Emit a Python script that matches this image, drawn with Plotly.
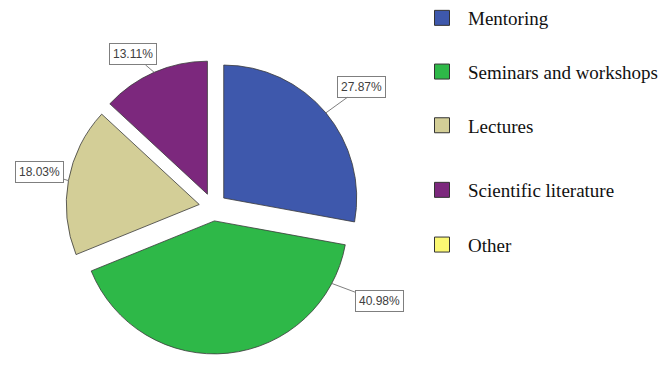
import math
import plotly.graph_objects as go

# ---- data ----
categories = ["Mentoring", "Seminars and workshops", "Lectures", "Scientific literature", "Other"]
percentages = [27.87, 40.98, 18.03, 13.11, 0.0]
colors = ["#3E58AC", "#2EB848", "#D3CE97", "#7C287D", "#FBF873"]

# ---- layout constants (page px; page body has an 8px margin) ----
OFF = 8
W, H = 666 - OFF, 367 - OFF
CX, CY, R = 213 - OFF, 207 - OFF, 133   # pie centre / radius in figure px
PULL = 0.105
anchor_frac = [0.5, 0.12, 0.5, 0.5, 0.5]
label_offset = [(36, -26), (48, 18), (-29, -9), (-21, -18), (0, 0)]

half = R * (1 + PULL)
domain_x = [(CX - half) / W, (CX + half) / W]
domain_y = [1 - (CY + half) / H, 1 - (CY - half) / H]

# no outline for empty slices
line_widths = [0.8 if v > 0 else 0 for v in percentages]

fig = go.Figure()
fig.add_trace(go.Pie(
    labels=categories, values=percentages, sort=False,
    direction="clockwise", rotation=0, pull=PULL,
    marker=dict(colors=colors, line=dict(color="#3a3a3a", width=line_widths)),
    textinfo="none", hoverinfo="label+percent", showlegend=False,
    domain=dict(x=domain_x, y=domain_y),
))

# ---- boxed percentage labels with leader lines ----
total = sum(percentages)
cum = 0.0
annotations = []
for i, v in enumerate(percentages):
    a0 = 360 * cum / total
    a1 = 360 * (cum + v) / total
    cum += v
    if v <= 0:
        continue
    mid = math.radians((a0 + a1) / 2)
    anc = math.radians(a0 + anchor_frac[i] * (a1 - a0))
    tx = CX + PULL * R * math.sin(mid) + R * math.sin(anc)
    ty = CY - PULL * R * math.cos(mid) - R * math.cos(anc)
    ax, ay = label_offset[i]
    annotations.append(dict(
        x=tx / W, y=1 - ty / H, xref="paper", yref="paper",
        ax=ax, ay=ay, text=f"{v:.2f}%",
        showarrow=True, arrowhead=0, arrowwidth=1, arrowcolor="#7f7f7f",
        bordercolor="#7f7f7f", borderwidth=1, borderpad=3, bgcolor="white",
        font=dict(family="Liberation Sans", size=12, color="#404040"),
    ))

# ---- legend (dummy marker traces) ----
for i, (cat, col) in enumerate(zip(categories, colors)):
    fig.add_trace(go.Scatter(
        x=[None], y=[None], mode="markers", name=cat,
        marker=dict(symbol="square", size=15, color=col, line=dict(color="#333333", width=1)),
        legend="legend" if i < 3 else "legend2", legendgroup=cat,
        showlegend=True, hoverinfo="skip",
    ))

leg_common = dict(
    xanchor="left", yanchor="top", itemwidth=42,
    font=dict(family="Liberation Serif", size=19, color="#111111"),
    bgcolor="rgba(0,0,0,0)", borderwidth=0,
)
LEG_X = 416 - OFF
fig.update_layout(
    width=W, height=H, margin=dict(l=0, r=0, t=0, b=0, autoexpand=False),
    paper_bgcolor="white", plot_bgcolor="white",
    xaxis=dict(visible=False), yaxis=dict(visible=False),
    annotations=annotations,
    legend=dict(x=LEG_X / W, y=1 + 9 / H, tracegroupgap=26, **leg_common),
    legend2=dict(x=LEG_X / W, y=1 - 163 / H, tracegroupgap=27, **leg_common),
)

fig.write_html("out.html")
